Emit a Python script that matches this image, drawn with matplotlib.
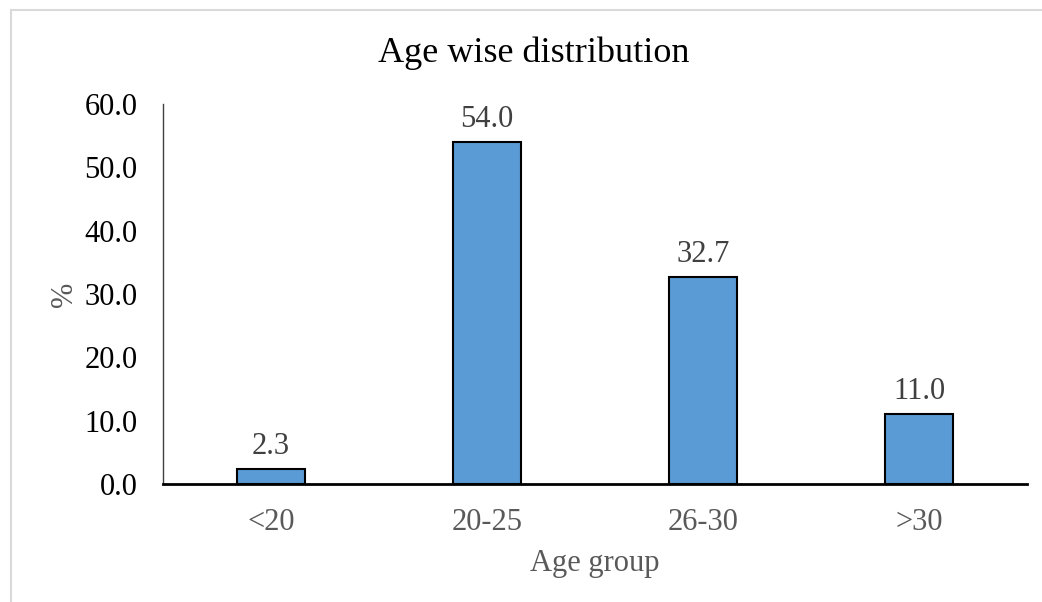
import matplotlib.pyplot as plt
from matplotlib.patches import Rectangle

# age distribution of respondents (%)
groups = ["<20", "20-25", "26-30", ">30"]
percent = [2.3, 54.0, 32.7, 11.0]

plt.rcParams["font.family"] = ["Liberation Serif", "DejaVu Serif"]

fig = plt.figure(figsize=(10.42, 6.02), dpi=100)
ax = fig.add_axes([0.1564, 0.196, 0.8292, 0.6312])

x = range(len(groups))
bars = ax.bar(x, percent, width=0.315, color="#5B9BD5",
              edgecolor="black", linewidth=1.5, zorder=2)

for b, v in zip(bars, percent):
    ax.annotate(f"{v:.1f}", (b.get_x() + b.get_width() / 2, v),
                xytext=(0, 6), textcoords="offset points",
                ha="center", va="bottom", fontsize=22, color="#404040")

ax.set_xlim(-0.5, len(groups) - 0.5)
ax.set_ylim(0, 60)
ax.set_yticks(range(0, 61, 10))
ax.set_yticklabels([f"{t:.1f}" for t in range(0, 61, 10)])
ax.set_xticks(list(x))
ax.set_xticklabels(groups)
ax.tick_params(axis="y", length=0, pad=18.5, labelsize=22, labelcolor="black")
ax.tick_params(axis="x", length=0, pad=17, labelsize=22, labelcolor="#595959")

for side in ("top", "right"):
    ax.spines[side].set_visible(False)
ax.spines["left"].set_color("#404040")
ax.spines["left"].set_linewidth(1.0)
ax.spines["bottom"].set_color("black")
ax.spines["bottom"].set_linewidth(2.0)

ax.set_xlabel("Age group", fontsize=22, color="#595959")
ax.xaxis.set_label_coords(0.5, -0.17)
ax.set_ylabel("%", fontsize=22, color="#595959")
ax.yaxis.set_label_coords(-0.097, 0.5)
fig.text(0.512, 0.912, "Age wise distribution", ha="center", va="center",
         fontsize=26, color="black")

# light chart-area frame
fig.patches.append(Rectangle((11 / 1042, -0.1), 1.2, 1.1 - 10 / 602,
                             transform=fig.transFigure, fill=False,
                             edgecolor="#D9D9D9", linewidth=1.5))

fig.savefig("out.png", dpi=100)
